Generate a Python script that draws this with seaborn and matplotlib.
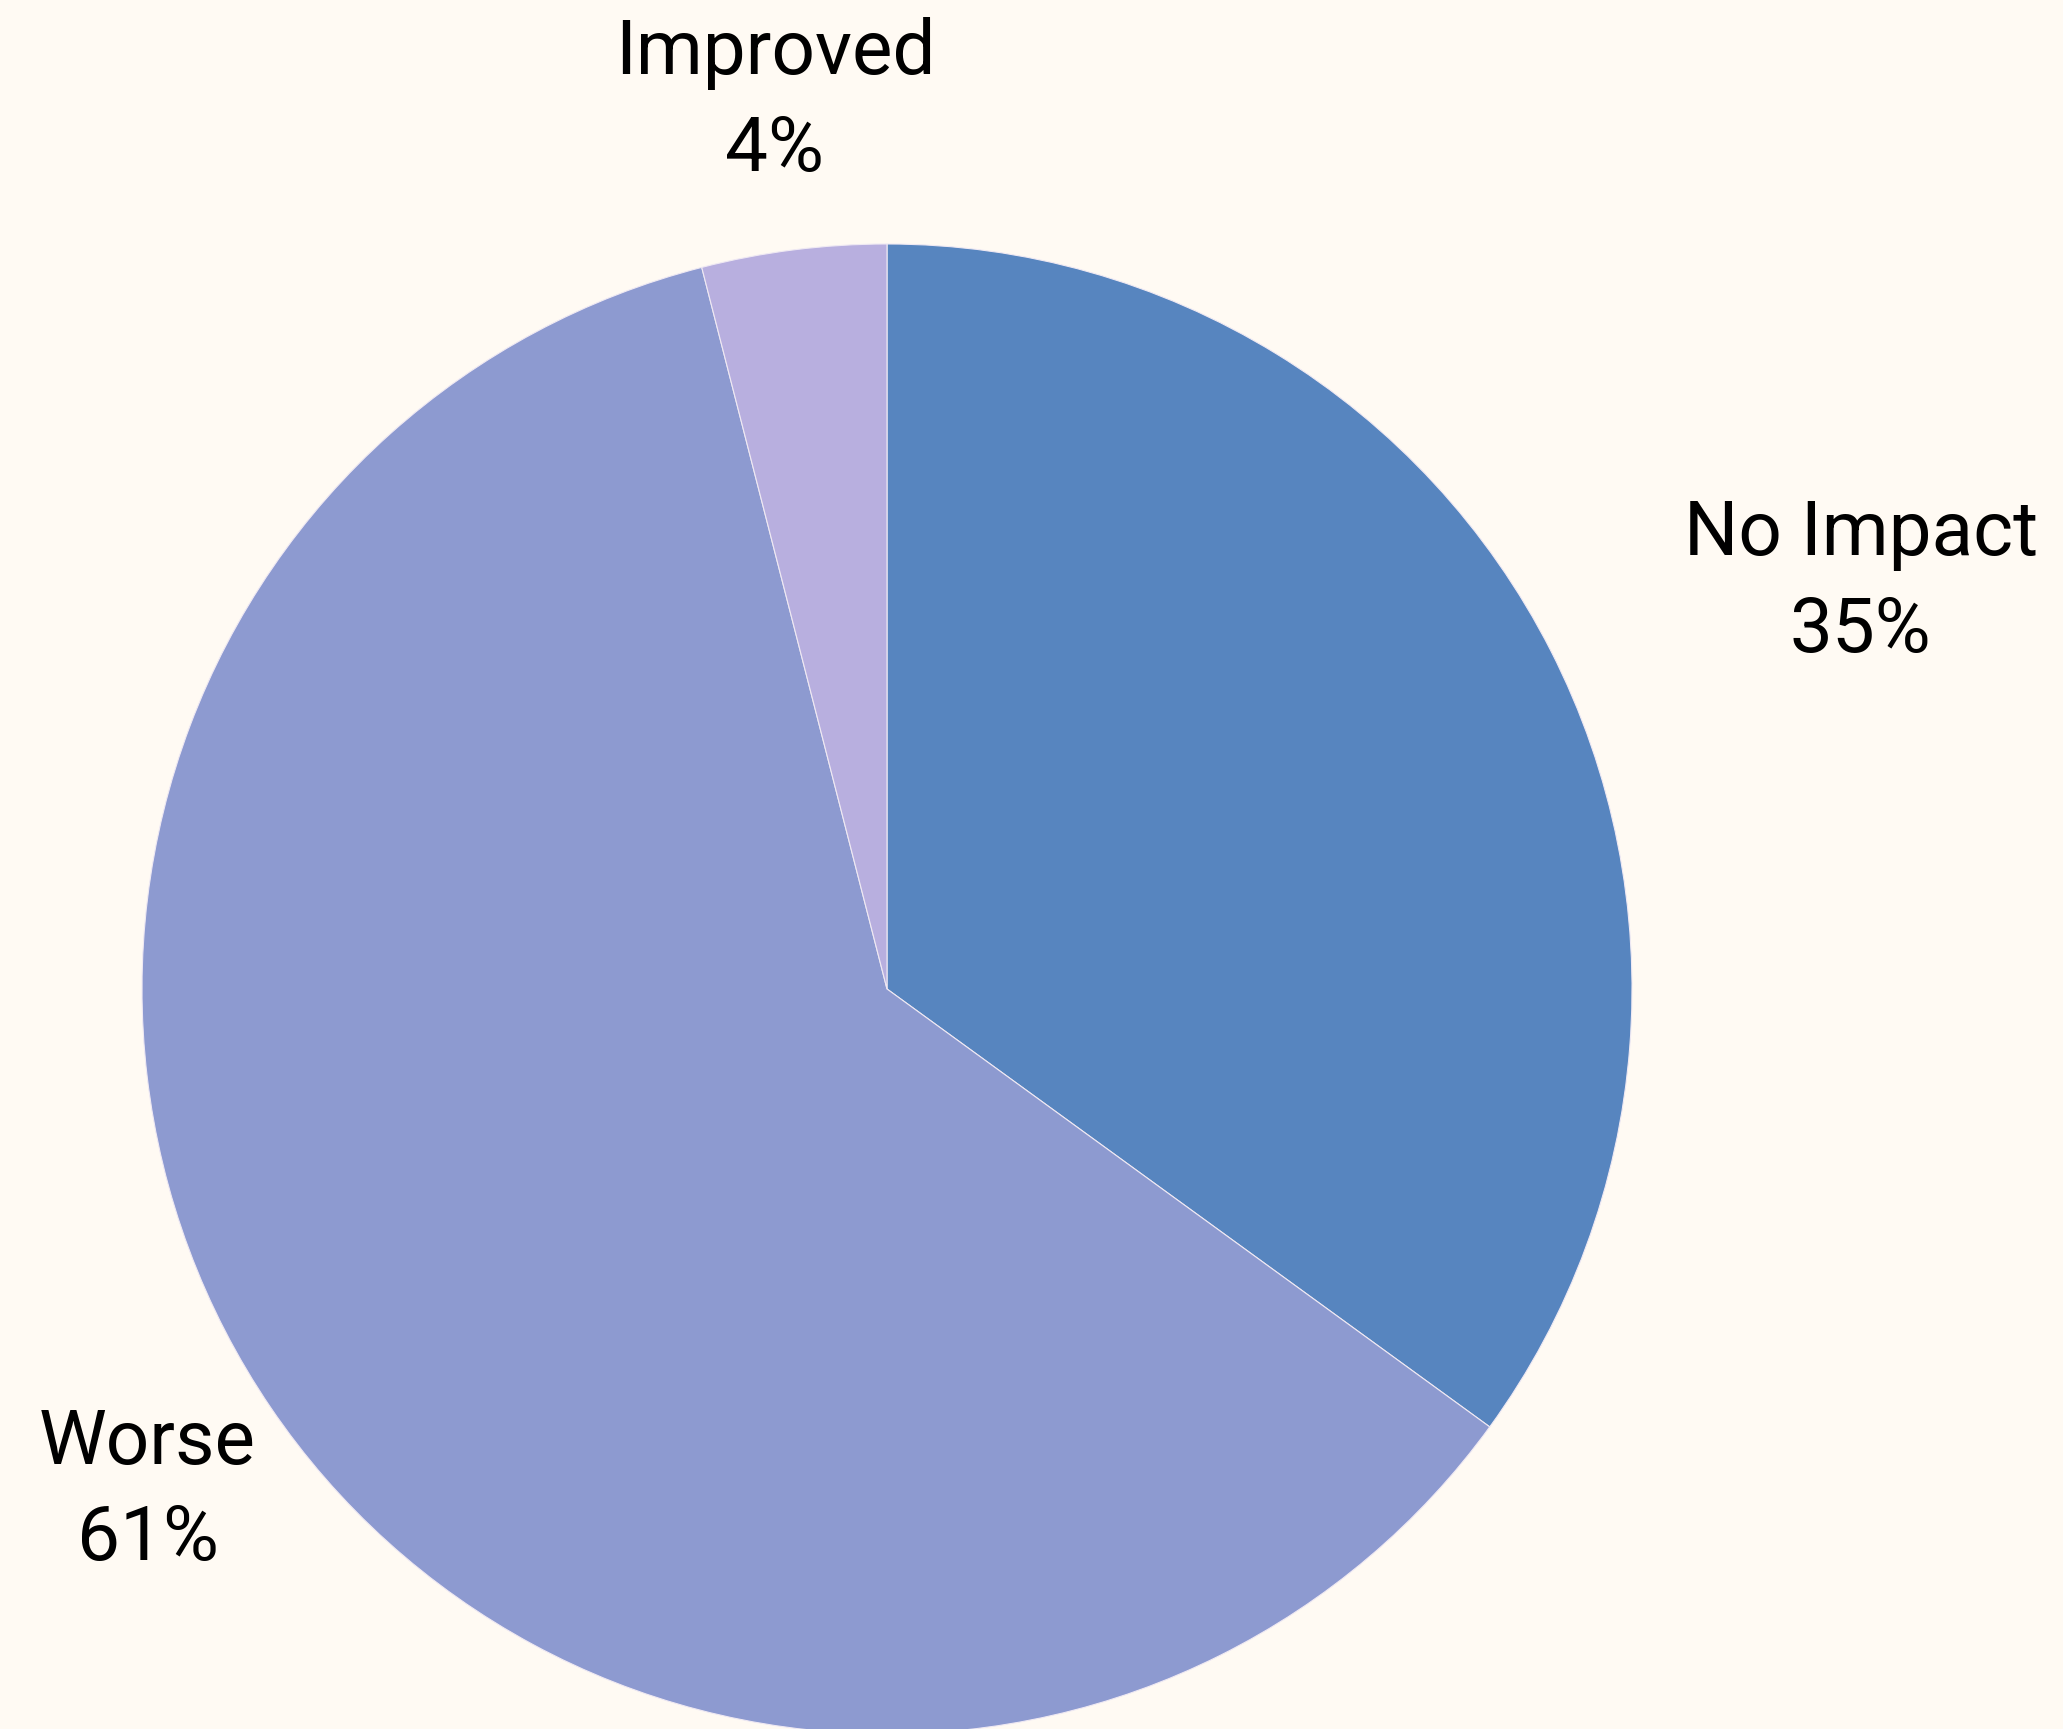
import matplotlib
matplotlib.use("Agg")
import matplotlib.pyplot as plt
import seaborn as sns

# Survey responses: share of respondents per outcome
categories = ["No Impact", "Worse", "Improved"]
shares = [35, 61, 4]
colors = ["#5785bf", "#8d9ad0", "#b8afdf"]

BG = "#fffaf3"

sns.set_theme(style="white", rc={"figure.facecolor": BG, "axes.facecolor": BG})
plt.rcParams["font.family"] = ["Roboto", "DejaVu Sans"]

fig = plt.figure(figsize=(20.63, 17.29), dpi=100)
ax = fig.add_axes([0, 0, 1, 1])
ax.set_facecolor(BG)

labels = [f"{c}\n{v}%" for c, v in zip(categories, shares)]
wedges, texts = ax.pie(
    shares,
    labels=labels,
    colors=sns.color_palette(colors),
    startangle=90,
    counterclock=False,
    radius=1.0,
    labeldistance=1.2,
    wedgeprops=dict(edgecolor="#efe9f3", linewidth=0.8),
    textprops=dict(fontsize=55, fontweight="normal", color="black",
                   multialignment="center", linespacing=1.42),
)
for t in texts:
    x, _ = t.get_position()
    if x < 0:
        t.set_ha("center")

ax.set_xlim(-1.1906, 1.5785)
ax.set_ylim(-0.9933, 1.3275)
ax.set_aspect("auto")
ax.axis("off")

fig.savefig("out.png", dpi=100, facecolor=BG)
